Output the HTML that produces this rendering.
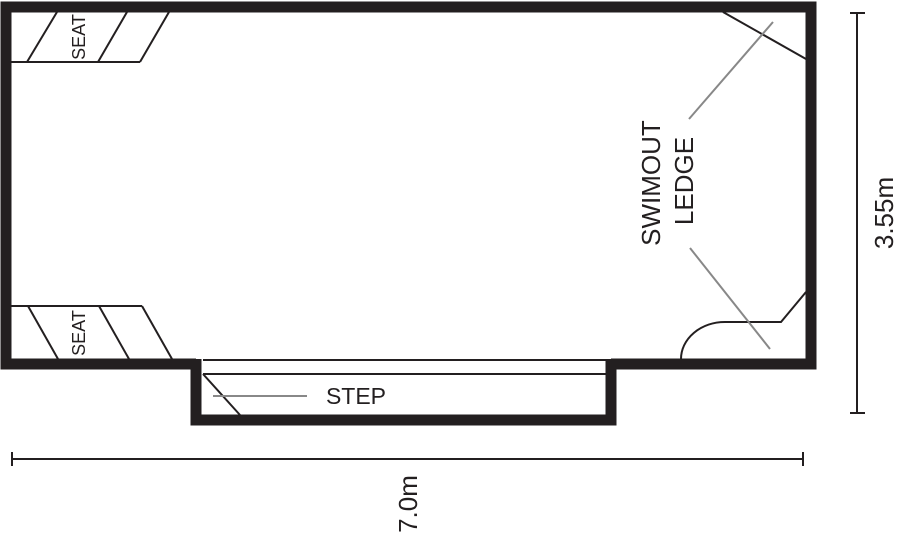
<!DOCTYPE html>
<html><head><meta charset="utf-8"><style>html,body{margin:0;padding:0;background:#fff}svg{display:block}</style></head>
<body>
<svg width="899" height="536" viewBox="0 0 899 536" xmlns="http://www.w3.org/2000/svg" font-family="Liberation Sans, sans-serif">
<g fill="none" stroke="#231f20" stroke-width="2">
<line x1="11" y1="62" x2="140" y2="62"/>
<line x1="27" y1="62" x2="57" y2="12"/>
<line x1="98" y1="62" x2="127" y2="12"/>
<line x1="140" y1="62" x2="169" y2="12"/>
<line x1="11" y1="306" x2="142" y2="306"/>
<line x1="28" y1="306" x2="58" y2="359"/>
<line x1="99" y1="306" x2="129" y2="359"/>
<line x1="142" y1="306" x2="172" y2="359"/>
<line x1="203" y1="360" x2="606" y2="360"/>
<line x1="203" y1="374" x2="606" y2="374"/>
<line x1="203" y1="374" x2="240" y2="415"/>
<line x1="723" y1="12" x2="806" y2="59"/>
<path d="M681 359 A44 37 0 0 1 725 322 L781 322 L806 292"/>
</g>
<g fill="none" stroke="#231f20" stroke-width="11" stroke-linejoin="miter">
<path d="M196 364 L6 364 L6 7 L811 7 L811 364 L611 364"/>
<path d="M196 359 L196 420 L611 420 L611 359"/>
</g>
<g stroke="#888" stroke-width="2">
<line x1="213" y1="396" x2="307" y2="396"/>
<line x1="689" y1="119" x2="773" y2="22"/>
<line x1="690" y1="248" x2="770" y2="349"/>
</g>
<g stroke="#231f20" stroke-width="2">
<line x1="857" y1="13" x2="857" y2="413"/>
<line x1="850" y1="13" x2="865" y2="13"/>
<line x1="850" y1="413" x2="865" y2="413"/>
<line x1="12" y1="459" x2="803" y2="459"/>
<line x1="12" y1="452" x2="12" y2="466"/>
<line x1="803" y1="452" x2="803" y2="466"/>
</g>
<g fill="#231f20" text-anchor="middle">
<text transform="translate(85,37) rotate(-90)" font-size="18">SEAT</text>
<text transform="translate(85,333) rotate(-90)" font-size="18">SEAT</text>
<text x="356" y="404" font-size="23">STEP</text>
<text transform="translate(660,183) rotate(-90)" font-size="26">SWIMOUT</text>
<text transform="translate(693,181) rotate(-90)" font-size="26">LEDGE</text>
<text transform="translate(893,213) rotate(-90)" font-size="26">3.55m</text>
<text transform="translate(417,504) rotate(-90)" font-size="26">7.0m</text>
</g>
</svg>
</body></html>
